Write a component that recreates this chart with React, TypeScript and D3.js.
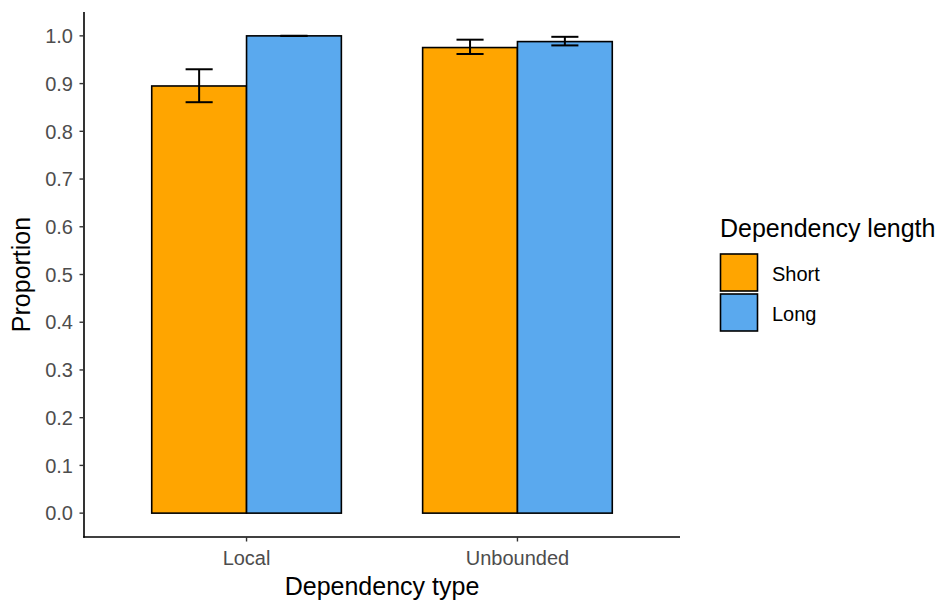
import React from "react";
import * as d3 from "d3";

const categories = ["Local", "Unbounded"];
const groups = ["Short", "Long"];
const colors = ["#FFA500", "#5AA9EE"];
// values[group][category]
const shortValues = [0.895, 0.9755];
const longValues = [1.0, 0.988];
const shortLower = [0.861, 0.962];
const shortUpper = [0.930, 0.992];
const longLower = [1.0, 0.980];
const longUpper = [1.0, 0.998];
const yTicks = [0, 0.1, 0.2, 0.3, 0.4, 0.5, 0.6, 0.7, 0.8, 0.9, 1.0];

const W = 943;
const H = 601;
const panel = { left: 84, right: 680, top: 12, bottom: 537 };
const font = "'Liberation Sans', Arial, Helvetica, sans-serif";
const tickFont = 20;
const titleFont = 25;

export default function App() {
  const x = d3.scaleLinear().domain([0.4, 2.6]).range([panel.left, panel.right]);
  const y = d3.scaleLinear().domain([-0.05, 1.05]).range([panel.bottom, panel.top]);
  const values = [shortValues, longValues];
  const lowers = [shortLower, longLower];
  const uppers = [shortUpper, longUpper];
  const barW = 0.7;
  const dodge = barW / groups.length;
  const capW = 0.1;

  return (
    <svg width={W} height={H} style={{ position: "absolute", left: 0, top: 0 }} fontFamily={font}>
      <rect width={W} height={H} fill="#fff" />
      {categories.map((c, ci) =>
        groups.map((g, gi) => {
          const x0 = ci + 1 - barW / 2 + gi * dodge;
          return (
            <rect
              key={c + g}
              x={x(x0)}
              y={y(values[gi][ci])}
              width={x(x0 + dodge) - x(x0)}
              height={y(0) - y(values[gi][ci])}
              fill={colors[gi]}
              stroke="#000"
              strokeWidth={1.6}
            />
          );
        })
      )}
      {categories.map((c, ci) =>
        groups.map((g, gi) => {
          const xc = ci + 1 - barW / 2 + (gi + 0.5) * dodge;
          const lo = y(lowers[gi][ci]);
          const hi = y(uppers[gi][ci]);
          return (
            <g key={"e" + c + g} stroke="#000" strokeWidth={2}>
              <line x1={x(xc)} x2={x(xc)} y1={lo} y2={hi} />
              <line x1={x(xc - capW / 2)} x2={x(xc + capW / 2)} y1={lo} y2={lo} />
              <line x1={x(xc - capW / 2)} x2={x(xc + capW / 2)} y1={hi} y2={hi} />
            </g>
          );
        })
      )}
      {/* axes */}
      <line x1={panel.left} x2={panel.left} y1={panel.top} y2={panel.bottom + 0.8} stroke="#000" strokeWidth={1.6} />
      <line x1={panel.left - 0.8} x2={panel.right} y1={panel.bottom} y2={panel.bottom} stroke="#000" strokeWidth={1.6} />
      {yTicks.map((t) => (
        <g key={t}>
          <line x1={panel.left - 4.5} x2={panel.left} y1={y(t)} y2={y(t)} stroke="#333" strokeWidth={1.4} />
          <text x={panel.left - 11} y={y(t)} dy="0.36em" textAnchor="end" fontSize={tickFont} fill="#4d4d4d">
            {t.toFixed(1)}
          </text>
        </g>
      ))}
      {categories.map((c, ci) => (
        <g key={c}>
          <line x1={x(ci + 1)} x2={x(ci + 1)} y1={panel.bottom} y2={panel.bottom + 4.5} stroke="#333" strokeWidth={1.4} />
          <text x={x(ci + 1)} y={565} textAnchor="middle" fontSize={tickFont} fill="#4d4d4d">
            {c}
          </text>
        </g>
      ))}
      <text x={(panel.left + panel.right) / 2} y={595} textAnchor="middle" fontSize={titleFont} fill="#000">
        Dependency type
      </text>
      <text
        transform={`translate(30,${(panel.top + panel.bottom) / 2}) rotate(-90)`}
        textAnchor="middle"
        fontSize={titleFont}
        fill="#000"
      >
        Proportion
      </text>
      {/* legend */}
      <text x={720} y={237} fontSize={titleFont} fill="#000">
        Dependency length
      </text>
      {groups.map((g, gi) => (
        <g key={"l" + g}>
          <rect x={720.5} y={254 + gi * 40} width={37} height={37} fill={colors[gi]} stroke="#000" strokeWidth={1.6} />
          <text x={772} y={254 + gi * 40 + 18.5} dy="0.4em" fontSize={tickFont} fill="#000">
            {g}
          </text>
        </g>
      ))}
    </svg>
  );
}
